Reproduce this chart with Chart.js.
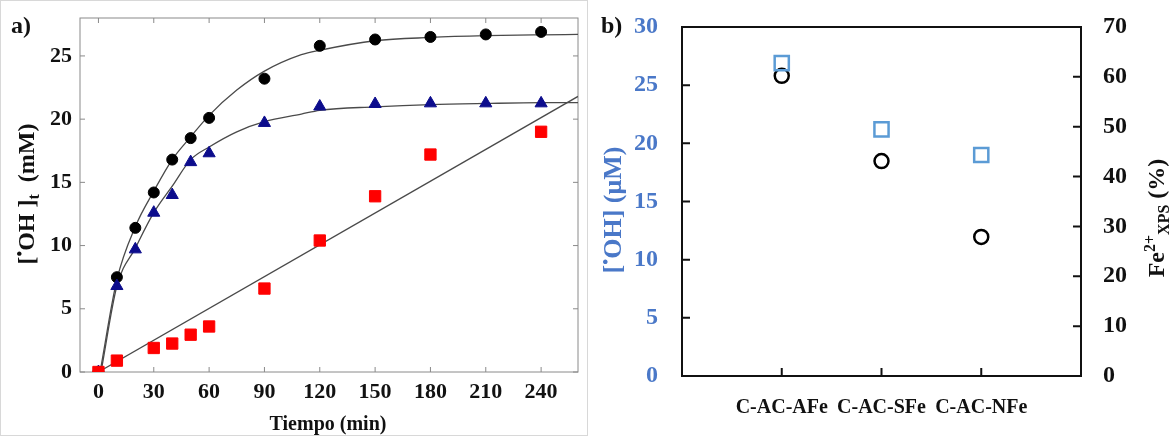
<!DOCTYPE html>
<html>
<head>
<meta charset="utf-8">
<script src="https://cdn.jsdelivr.net/npm/chart.js@4.4.1/dist/chart.umd.min.js"></script>
<style>
  html, body { margin: 0; padding: 0; background: #fff; }
  #wrap { position: relative; width: 1170px; height: 436px; overflow: hidden; }
  #chartA { position: absolute; left: 0; top: 0; }
  #chartB { position: absolute; left: 590px; top: 0; }
</style>
</head>
<body>
<div id="wrap">
  <canvas id="chartA" width="590" height="436"></canvas>
  <canvas id="chartB" width="580" height="436"></canvas>
</div>
<script>
// Panel a) measured points
const timeMin = [0, 10, 20, 30, 40, 50, 60, 90, 120, 150, 180, 210, 240];
const ohBlack = [0, 7.5, 11.4, 14.2, 16.8, 18.5, 20.1, 23.2, 25.8, 26.3, 26.5, 26.7, 26.9];
const ohBlue = [0, 6.8, 9.7, 12.6, 14.0, 16.6, 17.3, 19.7, 21.0, 21.2, 21.25, 21.25, 21.25];
const redTime = [0, 10, 30, 40, 50, 60, 90, 120, 150, 180, 240];
const ohRed = [0, 0.9, 1.9, 2.25, 2.95, 3.6, 6.6, 10.4, 13.9, 17.2, 19.0];

// Panel a) fitted curves (read off the picture)
const fitBlackT = [1, 10, 20, 30, 40, 50, 60, 75, 90, 110, 120, 150, 180, 210, 240, 260];
const fitBlackY = [0.1, 7.3, 11.5, 14.3, 16.8, 18.6, 20.3, 22.3, 23.8, 25.1, 25.45, 26.2, 26.46, 26.6, 26.67, 26.7];
const fitBlueT = [1.5, 10, 20, 30, 40, 50, 60, 75, 90, 110, 120, 150, 180, 210, 240, 260];
const fitBlueY = [0.1, 6.8, 9.8, 12.6, 14.7, 16.8, 17.8, 19.0, 19.8, 20.4, 20.7, 20.97, 21.15, 21.24, 21.3, 21.3];
const fitRedT = [0, 260];
const fitRedY = [0, 21.8];
const timeTicks = [0, 30, 60, 90, 120, 150, 180, 210, 240];

// Panel b)
const samples = ['', 'C-AC-AFe', 'C-AC-SFe', 'C-AC-NFe', ''];
const ohMicroM = [null, 26.9, 21.2, 19.0, null];
const fe2Pct = [null, 60.2, 43.1, 27.9, null];

const SERIF = '"Liberation Serif", "Times New Roman", serif';
const BLUE_TXT = '#4a78c8';
const BLUE_MARK = '#5b9bd5';

const pts = (xs, ys) => xs.map((x, i) => ({ x: x, y: ys[i] }));

// keep the chart area where the layout padding puts it
const fixWidth = w => s => { s.width = w; s.paddingTop = 0; s.paddingBottom = 0; };
const fixHeight = h => s => { s.height = h; s.paddingLeft = 0; s.paddingRight = 0; };

// text with sub/superscripts, optionally rotated
function drawRich(ctx, x, y, rot, parts, size, color) {
    ctx.save();
    ctx.translate(x, y);
    ctx.rotate(rot);
    ctx.fillStyle = color;
    ctx.textBaseline = 'alphabetic';
    ctx.textAlign = 'left';
    const fontFor = p => `bold ${(p.sup || p.sub) ? Math.round(size * 0.65) : size}px ${SERIF}`;
    let w = 0;
    parts.forEach(p => { ctx.font = fontFor(p); w += ctx.measureText(p.t).width; });
    let cx = -w / 2;
    parts.forEach(p => {
        ctx.font = fontFor(p);
        const dy = p.sup ? -size * 0.38 : (p.sub ? size * 0.22 : 0);
        ctx.fillText(p.t, cx, size * 0.33 + dy);
        cx += ctx.measureText(p.t).width;
    });
    ctx.restore();
}

// frame + inward tick marks
function framePlugin(cfg) {
    return {
        id: 'frame',
        beforeDatasetsDraw(chart) {
            const { ctx, chartArea: a } = chart;
            ctx.save();
            ctx.strokeStyle = cfg.color;
            ctx.lineWidth = cfg.width;
            ctx.strokeRect(a.left, a.top, a.right - a.left, a.bottom - a.top);
            ctx.beginPath();
            cfg.ticks.forEach(t => {
                const s = chart.scales[t.scale];
                s.ticks.forEach(tk => {
                    if (t.skipEmpty && !String(tk.label)) return;
                    const p = s.getPixelForValue(tk.value);
                    t.sides.forEach(side => {
                        if (side === 'bottom') { ctx.moveTo(p, a.bottom); ctx.lineTo(p, a.bottom - cfg.len); }
                        if (side === 'top') { ctx.moveTo(p, a.top); ctx.lineTo(p, a.top + cfg.len); }
                        if (side === 'left') { ctx.moveTo(a.left, p); ctx.lineTo(a.left + cfg.len, p); }
                        if (side === 'right') { ctx.moveTo(a.right, p); ctx.lineTo(a.right - cfg.len, p); }
                    });
                });
            });
            ctx.stroke();
            ctx.restore();
        }
    };
}

const labelsA = {
    id: 'labelsA',
    afterDraw(chart) {
        const ctx = chart.ctx;
        ctx.save();
        ctx.strokeStyle = '#d8d8d8';
        ctx.lineWidth = 1;
        ctx.strokeRect(0.5, 0.5, 587, 435);
        ctx.font = `bold 24px ${SERIF}`;
        ctx.fillStyle = '#111';
        ctx.textAlign = 'left';
        ctx.textBaseline = 'alphabetic';
        ctx.fillText('a)', 11, 33);
        ctx.restore();
        drawRich(ctx, 26, 194, -Math.PI / 2, [
            { t: '[' }, { t: '•', sup: true }, { t: 'OH ]' }, { t: 't', sub: true }, { t: '  (mM)' }
        ], 24, '#111');
        drawRich(ctx, 328, 423, 0, [{ t: 'Tiempo (min)' }], 20, '#111');
    }
};

const labelsB = {
    id: 'labelsB',
    afterDraw(chart) {
        const ctx = chart.ctx;
        ctx.save();
        ctx.font = `bold 24px ${SERIF}`;
        ctx.fillStyle = '#111';
        ctx.textAlign = 'left';
        ctx.textBaseline = 'alphabetic';
        ctx.fillText('b)', 11, 33);
        ctx.restore();
        drawRich(ctx, 22, 210, -Math.PI / 2, [
            { t: '[' }, { t: '•', sup: true }, { t: 'OH] (μM)' }
        ], 26, BLUE_TXT);
        drawRich(ctx, 566, 218, -Math.PI / 2, [
            { t: 'Fe' }, { t: '2+', sup: true }, { t: 'XPS', sub: true }, { t: ' (%)' }
        ], 24, '#111');
    }
};

new Chart(document.getElementById('chartA'), {
    type: 'scatter',
    data: {
        datasets: [
            {
                data: pts(redTime, ohRed), pointStyle: 'rect', pointRadius: 8, pointBorderWidth: 1,
                backgroundColor: '#ff0000', borderColor: '#ff0000'
            },
            {
                data: pts(timeMin, ohBlue), pointStyle: 'triangle', pointRadius: 7, pointBorderWidth: 1,
                backgroundColor: '#0c0c8c', borderColor: '#0c0c8c'
            },
            {
                data: pts(timeMin, ohBlack), pointStyle: 'circle', pointRadius: 5.5, pointBorderWidth: 1,
                backgroundColor: '#000', borderColor: '#000'
            },
            {
                data: pts(fitBlackT, fitBlackY), showLine: true, pointRadius: 0, borderColor: '#4a4a4a',
                borderWidth: 1.3, cubicInterpolationMode: 'monotone'
            },
            {
                data: pts(fitBlueT, fitBlueY), showLine: true, pointRadius: 0, borderColor: '#4a4a4a',
                borderWidth: 1.3, cubicInterpolationMode: 'monotone'
            },
            {
                data: pts(fitRedT, fitRedY), showLine: true, pointRadius: 0, borderColor: '#4a4a4a',
                borderWidth: 1.3
            }
        ]
    },
    options: {
        responsive: false,
        animation: false,
        layout: { padding: { top: 18, left: 0, right: 0, bottom: 0 } },
        plugins: { legend: { display: false }, tooltip: { enabled: false } },
        scales: {
            x: {
                type: 'linear', position: 'bottom', min: -10, max: 260,
                afterBuildTicks: s => { s.ticks = timeTicks.map(v => ({ value: v })); },
                afterFit: fixHeight(64),
                grid: { display: false, drawTicks: false },
                border: { display: false },
                ticks: { padding: 7, color: '#111', font: { family: SERIF, size: 22, weight: 'bold' }, maxRotation: 0 }
            },
            y: {
                type: 'linear', position: 'left', min: 0, max: 28,
                afterFit: fixWidth(80),
                grid: { display: false, drawTicks: false },
                border: { display: false },
                ticks: { stepSize: 5, includeBounds: false, padding: 8, color: '#111', font: { family: SERIF, size: 22, weight: 'bold' } }
            },
            yr: {
                type: 'linear', position: 'right', min: 0, max: 28,
                afterFit: fixWidth(12),
                grid: { display: false, drawTicks: false },
                border: { display: false },
                ticks: { stepSize: 5, includeBounds: false, display: false }
            }
        }
    },
    plugins: [
        framePlugin({
            color: '#8a8a8a', width: 1, len: 5,
            ticks: [{ scale: 'x', sides: ['bottom', 'top'] }, { scale: 'y', sides: ['left', 'right'] }]
        }),
        labelsA
    ]
});

new Chart(document.getElementById('chartB'), {
    type: 'line',
    data: {
        labels: samples,
        datasets: [
            {
                data: ohMicroM, yAxisID: 'y', showLine: false, pointStyle: 'rect', pointRadius: 10,
                pointBorderWidth: 2.5, borderColor: BLUE_MARK, backgroundColor: 'rgba(0,0,0,0)'
            },
            {
                data: fe2Pct, yAxisID: 'y2', showLine: false, pointStyle: 'circle', pointRadius: 7,
                pointBorderWidth: 2.5, borderColor: '#000', backgroundColor: 'rgba(0,0,0,0)'
            }
        ]
    },
    options: {
        responsive: false,
        animation: false,
        layout: { padding: { top: 27, left: 0, right: 0, bottom: 0 } },
        plugins: { legend: { display: false }, tooltip: { enabled: false } },
        scales: {
            x: {
                type: 'category', offset: false,
                afterFit: fixHeight(60),
                grid: { display: false, drawTicks: false },
                border: { display: false },
                ticks: { autoSkip: false, maxRotation: 0, padding: 20, color: '#111', font: { family: SERIF, size: 20, weight: 'bold' } }
            },
            y: {
                type: 'linear', position: 'left', min: 0, max: 30,
                afterFit: fixWidth(92),
                grid: { display: false, drawTicks: false },
                border: { display: false },
                ticks: { stepSize: 5, padding: 24, color: BLUE_TXT, font: { family: SERIF, size: 24, weight: 'bold' } }
            },
            y2: {
                type: 'linear', position: 'right', min: 0, max: 70,
                afterFit: fixWidth(89),
                grid: { display: false, drawTicks: false },
                border: { display: false },
                ticks: { stepSize: 10, padding: 22, color: '#111', font: { family: SERIF, size: 24, weight: 'bold' } }
            }
        }
    },
    plugins: [
        framePlugin({
            color: '#111', width: 2, len: 8,
            ticks: [
                { scale: 'x', sides: ['bottom'], skipEmpty: true },
                { scale: 'y', sides: ['left'] },
                { scale: 'y2', sides: ['right'] }
            ]
        }),
        labelsB
    ]
});
</script>
</body>
</html>
